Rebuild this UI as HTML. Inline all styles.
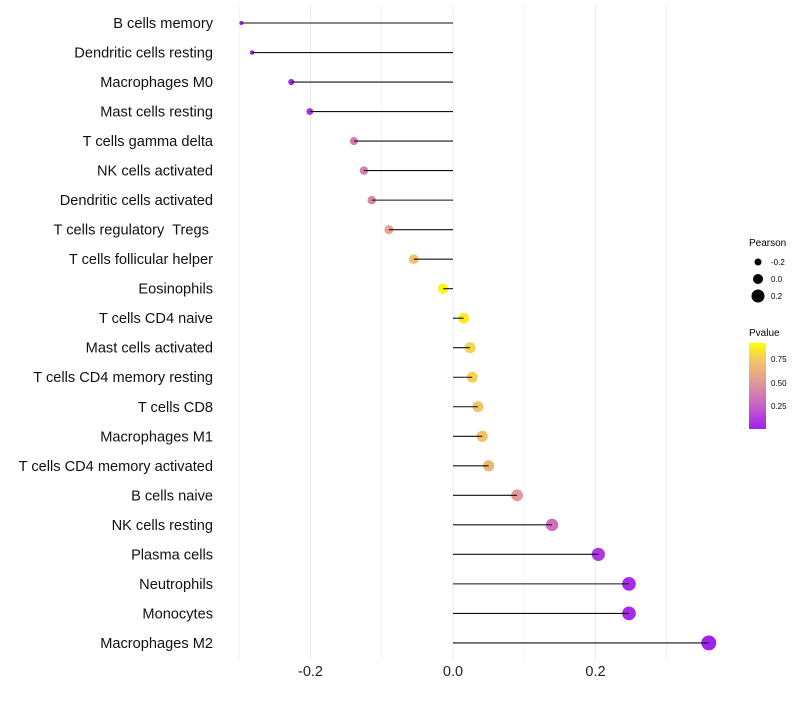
<!DOCTYPE html>
<html><head><meta charset="utf-8"><style>
body{margin:0;background:#fff;font-family:"Liberation Sans",Arial,sans-serif}
text{white-space:pre}
</style></head><body>
<svg id="chart" width="800" height="700" xmlns="http://www.w3.org/2000/svg" font-family="Liberation Sans, Arial, sans-serif">
<defs><linearGradient id="pg" x1="0" y1="1" x2="0" y2="0">
<stop offset="0" stop-color="#a020f0"/><stop offset="0.27" stop-color="#c860c8"/><stop offset="0.54" stop-color="#e09898"/><stop offset="0.8" stop-color="#f2c468"/><stop offset="1" stop-color="#ffff00"/></linearGradient></defs>
<g id="grid"></g><g id="marks"></g><g id="labels"></g>
<g>
<text x="749" y="246" font-size="10">Pearson</text>
<circle cx="758" cy="262" r="3.5" fill="#000"/><text x="771" y="265" font-size="8">-0.2</text>
<circle cx="758" cy="279" r="5" fill="#000"/><text x="771" y="282" font-size="8">0.0</text>
<circle cx="758" cy="296" r="6.5" fill="#000"/><text x="771" y="299" font-size="8">0.2</text>
<text x="749" y="336" font-size="10">Pvalue</text>
<rect x="749" y="343" width="17" height="86" fill="url(#pg)"/>
<text x="771" y="362" font-size="8">0.75</text><text x="771" y="386" font-size="8">0.50</text><text x="771" y="409" font-size="8">0.25</text>
</g>
</svg>
<script>
const categories=["B cells memory","Dendritic cells resting","Macrophages M0","Mast cells resting","T cells gamma delta","NK cells activated","Dendritic cells activated","T cells regulatory  Tregs ","T cells follicular helper","Eosinophils","T cells CD4 naive","Mast cells activated","T cells CD4 memory resting","T cells CD8","Macrophages M1","T cells CD4 memory activated","B cells naive","NK cells resting","Plasma cells","Neutrophils","Monocytes","Macrophages M2"];
const pearson=[-0.297,-0.282,-0.227,-0.201,-0.139,-0.125,-0.114,-0.090,-0.055,-0.014,0.015,0.024,0.027,0.035,0.041,0.050,0.090,0.139,0.204,0.247,0.247,0.359];
const pvalue=[0.01,0.02,0.05,0.08,0.40,0.42,0.46,0.60,0.78,0.97,0.93,0.86,0.84,0.80,0.78,0.72,0.55,0.35,0.10,0.05,0.05,0.01];
const xTicks=[-0.2,0.0,0.2];
const xTickLabels=["-0.2","0.0","0.2"];
const minorTicks=[-0.3,-0.1,0.1,0.3];
const NS="http://www.w3.org/2000/svg";
const xs=v=>453+v*712.5;
const ys=i=>23+i*29.52;
function col(p){const st=[[0,[160,32,240]],[0.27,[200,96,200]],[0.54,[224,152,152]],[0.8,[242,196,104]],[1,[255,255,0]]];
for(let k=1;k<st.length;k++){if(p<=st[k][0]){const a=st[k-1],b=st[k],t=(p-a[0])/(b[0]-a[0]);return "rgb("+a[1].map((c,j)=>Math.round(c+(b[1][j]-c)*t)).join(",")+")";}}return "rgb(255,255,0)";}
function mk(t,a,par){const e=document.createElementNS(NS,t);for(const k in a)e.setAttribute(k,a[k]);document.getElementById(par).appendChild(e);return e;}
minorTicks.forEach(v=>{const l=mk("line",{x1:xs(v),x2:xs(v),y1:5,y2:660,stroke:"#f2f2f2","stroke-width":1},"grid");

});
xTicks.forEach((v,i)=>{const l=mk("line",{x1:xs(v),x2:xs(v),y1:5,y2:660,stroke:"#ebebeb","stroke-width":1},"grid");


const t=mk("text",{x:xs(v),y:676,"text-anchor":"middle","font-size":14.5,fill:"#222"},"labels");t.textContent=xTickLabels[i];

});
categories.forEach((c,i)=>{const y=ys(i);
const t=mk("text",{x:213,y:y+5,"text-anchor":"end","font-size":14.6,fill:"#111"},"labels");t.textContent=c;


const r=Math.sqrt(Math.max(3,27.6+78.8*pearson[i]));
const p=mk("circle",{cx:xs(pearson[i]),cy:y,r:r,fill:col(pvalue[i])},"marks");


const l=mk("line",{x1:xs(0),x2:xs(pearson[i]),y1:y,y2:y,stroke:"#111","stroke-width":1.1},"marks");

});
</script>
</body></html>
